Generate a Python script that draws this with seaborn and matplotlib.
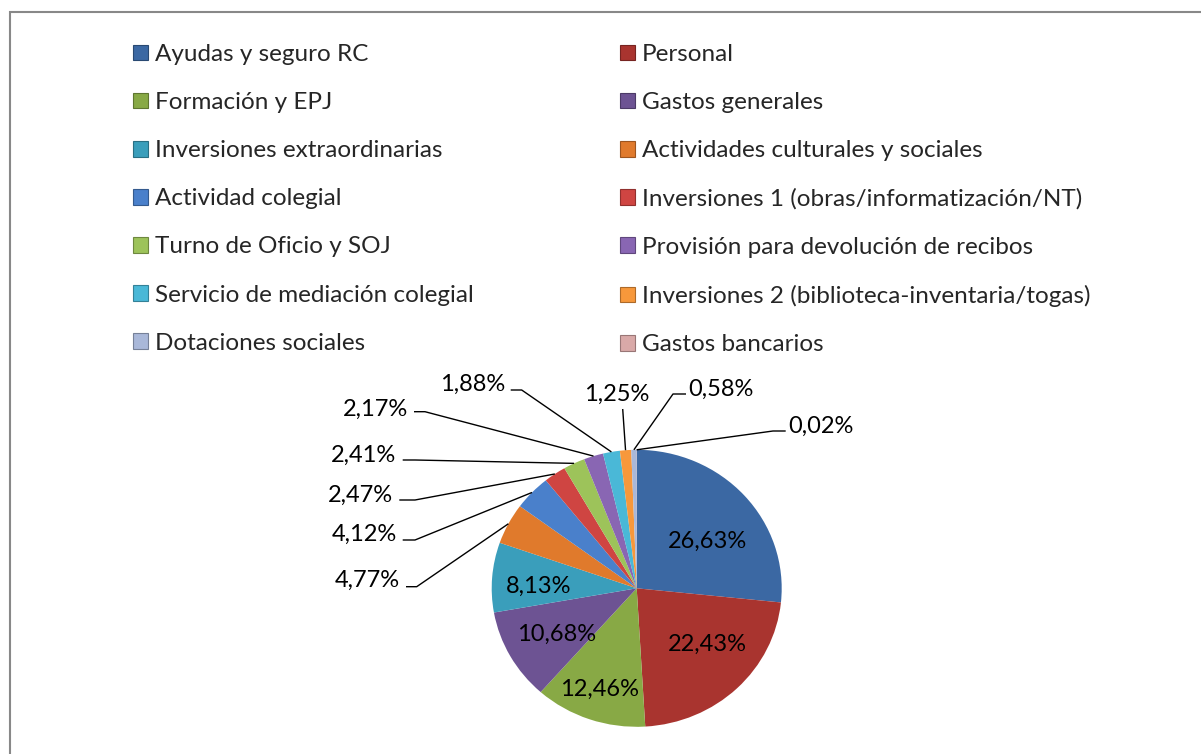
import numpy as np
import seaborn as sns
import matplotlib.pyplot as plt
from matplotlib.colors import to_rgb
from matplotlib.patches import Patch, Rectangle

categories = [
    "Ayudas y seguro RC",
    "Personal",
    "Formación y EPJ",
    "Gastos generales",
    "Inversiones extraordinarias",
    "Actividades culturales y sociales",
    "Actividad colegial",
    "Inversiones 1 (obras/informatización/NT)",
    "Turno de Oficio y SOJ",
    "Provisión para devolución de recibos",
    "Servicio de mediación colegial",
    "Inversiones 2 (biblioteca-inventaria/togas)",
    "Dotaciones sociales",
    "Gastos bancarios",
]
shares = [26.63, 22.43, 12.46, 10.68, 8.13, 4.77, 4.12, 2.47, 2.41, 2.17, 1.88, 1.25, 0.58, 0.02]
colors = [
    "#3B68A3", "#A9342F", "#88A945", "#6D5393", "#3A9EBB", "#E07A2C", "#4A80CB",
    "#CF4542", "#9DC35A", "#8966B3", "#4AB8D7", "#F7983B", "#A9B8D9", "#D9A9A8",
]

sns.set_style("white")
plt.rcParams["font.family"] = ["Lato", "DejaVu Sans"]

W, H = 1201, 754
fig = plt.figure(figsize=(W / 100, H / 100), dpi=100)
ax = fig.add_axes([0, 0, 1, 1])

# pie is a bit squashed vertically, like the original
rx, ry = 145, 138.5
k = rx / ry
cx_px, cy_px = 636.7, 588.3


def to_data(px, py):
    return px, (H - py) * k


cx, cy = to_data(cx_px, cy_px)
wedges, _ = ax.pie(shares, colors=colors, startangle=90, counterclock=False,
                   center=(cx, cy), radius=rx, wedgeprops=dict(linewidth=0))
ax.set_aspect("auto")
ax.set_xlim(0, W)
ax.set_ylim(0, H * k)
ax.axis("off")

labels = [f"{v:.2f}%".replace(".", ",") for v in shares]
fs = 17
leg_fs = 17.5

# labels inside the big slices: (radial fraction, clockwise shift in deg)
inside = {0: (0.60, 6.6), 1: (0.63, -7.4), 2: (0.765, 0.5), 3: (0.64, -0.6), 4: (0.68, -2.5)}
for i, (frac, shift) in inside.items():
    w = wedges[i]
    th = np.deg2rad((w.theta1 + w.theta2) / 2 - shift)
    ax.annotate(labels[i], (cx + frac * rx * np.cos(th), cy + frac * rx * np.sin(th)),
                xytext=(0, -8), textcoords="offset pixels",
                ha="center", va="baseline", fontsize=fs, color="black")

# outside labels: text centre (px) and the stub of the leader line (px)
outside = {
    5: ((367.5, 579.3), [(406, 586.7), (416.7, 586.7)]),
    6: ((364, 532.7), [(402.7, 540), (415, 540)]),
    7: ((360.8, 494), [(399.3, 500), (415, 500)]),
    8: ((364, 454), [(402.7, 460), (415, 460)]),
    9: ((375.8, 408.3), [(414, 411.7), (425, 411.7)]),
    10: ((472.8, 383.3), [(510.7, 390), (521.7, 390)]),
    11: ((616.7, 393.3), [(622.7, 409)]),
    12: ((720.5, 388), [(686, 394), (673, 394)]),
    13: ((820.5, 425), [(785.7, 431), (773, 431)]),
}
for i, ((tx, ty), stub) in outside.items():
    w = wedges[i]
    th = np.deg2rad((w.theta1 + w.theta2) / 2)
    edge = (cx + rx * np.cos(th), cy + rx * np.sin(th))
    pts = [to_data(x, y) for x, y in stub] + [edge]
    ax.plot([p[0] for p in pts], [p[1] for p in pts], color="black", lw=1.0,
            solid_capstyle="butt")
    ax.text(*to_data(tx, ty + 8), labels[i], ha="center", va="baseline",
            fontsize=fs, color="black")

# legend: two columns, read row by row
handles = [Patch(facecolor=c, edgecolor=tuple(np.array(to_rgb(c)) * 0.7), linewidth=0.8)
           for c in colors]
leg_kw = dict(loc="upper left", frameon=False, fontsize=leg_fs, handlelength=0.62,
              handleheight=0.62, handletextpad=0.29, labelspacing=1.115,
              borderpad=0, borderaxespad=0)
left_idx = list(range(0, 14, 2))
right_idx = list(range(1, 14, 2))
fig.legend([handles[i] for i in left_idx], [categories[i] for i in left_idx],
           bbox_to_anchor=(133 / W, 1 - 44 / H), **leg_kw)
fig.legend([handles[i] for i in right_idx], [categories[i] for i in right_idx],
           bbox_to_anchor=(620 / W, 1 - 44 / H), **leg_kw)

# chart border (only left and top edges are visible in the crop)
fig.add_artist(Rectangle((10 / W, -0.1), 1.2, 1.1 - 12 / H, transform=fig.transFigure,
                         fill=False, edgecolor="#888888", lw=1.5))

fig.savefig("out.png", dpi=100)
